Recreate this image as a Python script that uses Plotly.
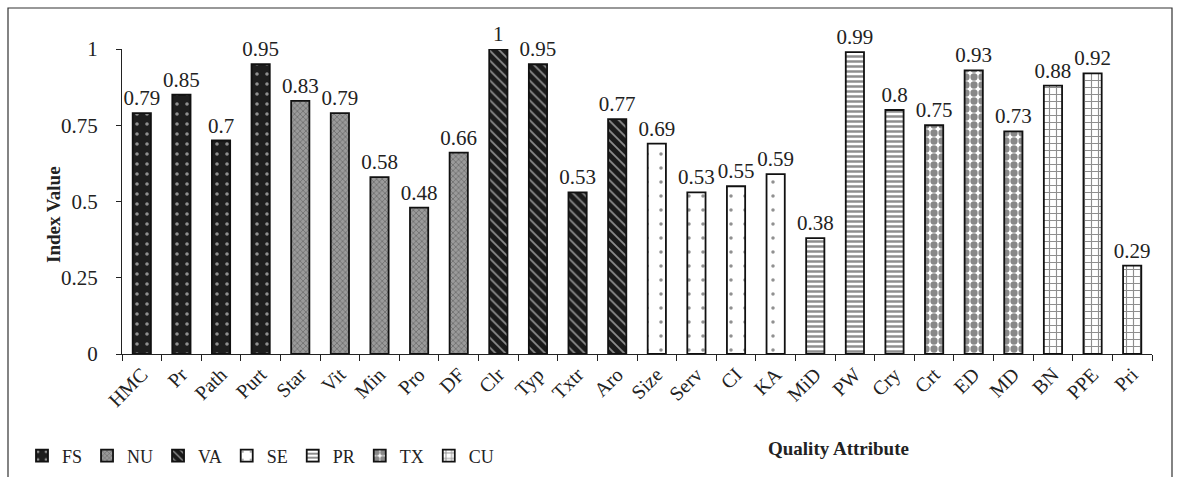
import plotly.graph_objects as go

categories = ["HMC", "Pr", "Path", "Purt", "Star", "Vit", "Min", "Pro", "DF",
              "Clr", "Typ", "Txtr", "Aro", "Size", "Serv", "CI", "KA",
              "MiD", "PW", "Cry", "Crt", "ED", "MD", "BN", "PPE", "Pri"]
values = [0.79, 0.85, 0.7, 0.95, 0.83, 0.79, 0.58, 0.48, 0.66,
          1, 0.95, 0.53, 0.77, 0.69, 0.53, 0.55, 0.59,
          0.38, 0.99, 0.8, 0.75, 0.93, 0.73, 0.88, 0.92, 0.29]
groups = ["FS"] * 4 + ["NU"] * 5 + ["VA"] * 4 + ["SE"] * 4 + ["PR"] * 3 + ["TX"] * 3 + ["CU"] * 3
group_order = ["FS", "NU", "VA", "SE", "PR", "TX", "CU"]
y_ticks = [0, 0.25, 0.5, 0.75, 1]
y_tick_labels = ["0", "0.25", "0.5", "0.75", "1"]

patterns = {
    "FS": dict(shape=".", bgcolor="#1e1e1e", fgcolor="#ffffff", size=10, solidity=0.1),
    "NU": dict(shape="x", bgcolor="#9a9a9a", fgcolor="#2a2a2a", size=4, solidity=0.3),
    "VA": dict(shape="\\", bgcolor="#1a1a1a", fgcolor="#ffffff", size=7, solidity=0.25),
    "SE": dict(shape=".", bgcolor="#ffffff", fgcolor="#222222", size=14, solidity=0.05),
    "PR": dict(shape="-", bgcolor="#ffffff", fgcolor="#1e1e1e", size=5, solidity=0.5),
    "TX": dict(shape=".", bgcolor="#ffffff", fgcolor="#111111", size=8, solidity=0.65),
    "CU": dict(shape="+", bgcolor="#ffffff", fgcolor="#1e1e1e", size=7, solidity=0.3),
}

FONT = "Liberation Serif"
fig = go.Figure()
for g in group_order:
    xs = [c for c, gg in zip(categories, groups) if gg == g]
    ys = [v for v, gg in zip(values, groups) if gg == g]
    fig.add_trace(go.Bar(
        x=xs, y=ys, name=g,
        text=[f"{v:g}" for v in ys], textposition="outside",
        textfont=dict(family=FONT, size=21, color="#222"),
        constraintext="none", cliponaxis=False,
        marker=dict(color=patterns[g]["bgcolor"], pattern=patterns[g],
                    line=dict(color="#111", width=1.8)),
    ))

W, H = 1178, 477
L, R, T, B = 122, 26, 49, 123
pw, ph = W - L - R, H - T - B

def px_x(p):
    return (p - L) / pw

def px_y(p):
    return (H - B - p) / ph

fig.update_layout(
    width=W, height=H,
    margin=dict(l=L, r=R, t=T, b=B, autoexpand=False),
    paper_bgcolor="white", plot_bgcolor="white",
    barmode="relative", bargap=0.54,
    font=dict(family=FONT, size=20, color="#222"),
    showlegend=True,
    legend=dict(orientation="h", x=px_x(22), xanchor="left", y=px_y(456), yanchor="middle",
                font=dict(family=FONT, size=18, color="#222"),
                itemwidth=30, bgcolor="rgba(0,0,0,0)"),
    xaxis=dict(categoryorder="array", categoryarray=categories, tickangle=-45,
               showline=True, linecolor="#222", linewidth=1,
               ticks="outside", tickson="boundaries", ticklen=6, tickcolor="#222",
               tickfont=dict(family=FONT, size=20), showgrid=False, automargin=False),
    yaxis=dict(range=[0, 1], tickvals=y_ticks, ticktext=y_tick_labels,
               showline=True, linecolor="#222", linewidth=1,
               ticks="outside", ticklen=5, tickcolor="#222", ticklabelstandoff=14,
               tickfont=dict(family=FONT, size=21), showgrid=False, zeroline=False,
               automargin=False),
    annotations=[
        dict(text="<b>Index Value</b>", textangle=-90, xref="paper", yref="paper",
             x=px_x(53), y=px_y(215), xanchor="center", yanchor="middle", showarrow=False,
             font=dict(family=FONT, size=19, color="#222")),
        dict(text="<b>Quality Attribute</b>", xref="paper", yref="paper",
             x=px_x(838), y=px_y(448), xanchor="center", yanchor="middle", showarrow=False,
             font=dict(family=FONT, size=19, color="#222")),
    ],
    shapes=[dict(type="rect", xref="paper", yref="paper",
                 x0=px_x(8), x1=px_x(1172), y0=px_y(490), y1=px_y(8),
                 line=dict(color="#333", width=1.2), fillcolor="rgba(0,0,0,0)", layer="below")],
)

fig.write_html("out.html", config={"displayModeBar": False},
               post_script="document.body.style.margin='0';document.body.style.overflow='hidden';")
